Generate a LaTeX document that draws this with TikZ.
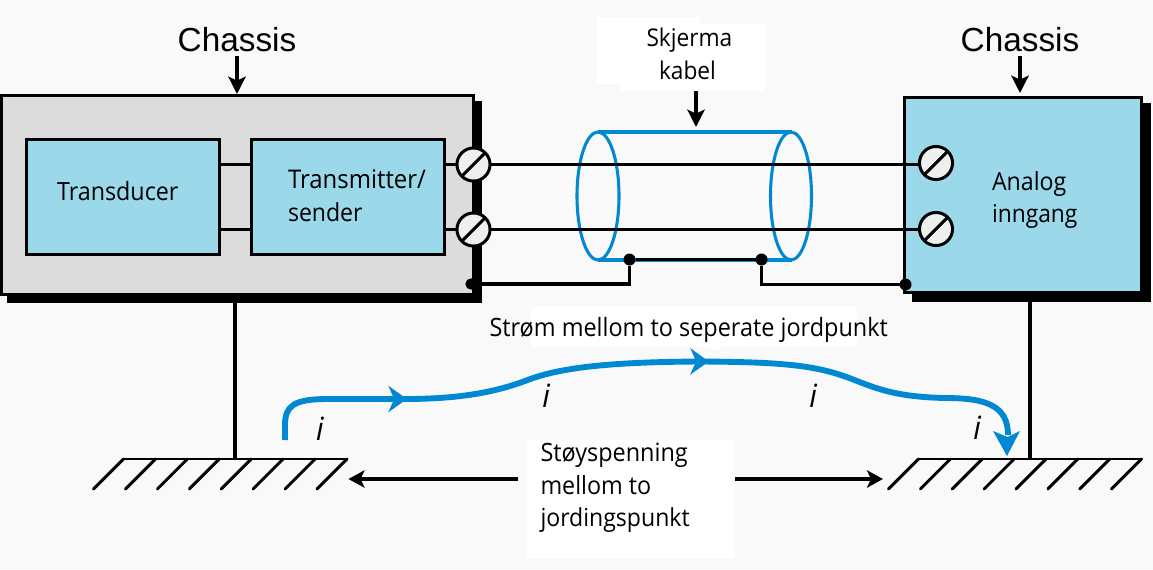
\documentclass[tikz,border=0pt]{standalone}
\usepackage{fontspec}
\usetikzlibrary{arrows.meta,decorations.markings,calc}
\newfontfamily\segf[FakeStretch=0.93]{Open Sans}
\newfontfamily\arialf{Liberation Sans}
\definecolor{bgc}{HTML}{F9F9F9}
\definecolor{boxg}{HTML}{DCDCDC}
\definecolor{boxb}{HTML}{9AD8EA}
\definecolor{wireb}{HTML}{0088D2}
\definecolor{termc}{HTML}{EFEFEF}
\tikzset{
  blk/.style={draw=black,line width=2.25pt,fill=#1,inner sep=0pt,outer sep=0pt,rectangle},
  shadowbox/.style={fill=black,inner sep=0pt,outer sep=0pt,rectangle},
  term/.style={draw=black,line width=2.25pt,fill=termc,circle,inner sep=0pt,outer sep=0pt,minimum size=24.8pt},
  jdot/.style={fill=black,circle,inner sep=0pt,outer sep=0pt,minimum size=#1},
  wire/.style={draw=black,line width=2.3pt},
  shieldl/.style={draw=wireb,line width=2.3pt},
  lbl/.style={anchor=base west,inner sep=0pt,outer sep=0pt,font=\segf\fontsize{#1}{#1}\selectfont,text=black},
  chas/.style={anchor=base,inner sep=0pt,outer sep=0pt,font=\arialf\fontsize{25}{25}\selectfont},
  ital/.style={anchor=center,inner sep=0pt,outer sep=0pt,font=\segf\itshape\fontsize{24}{24}\selectfont},
  arr/.style={draw=black,line width=2.6pt,-{Stealth[length=13pt,width=13pt,inset=3pt]}},
  arrb/.style={draw=black,line width=2.8pt,-{Stealth[length=12pt,width=13pt,inset=3pt]}},
  gnd/.style={draw=black,line width=2.2pt,line cap=round},
  patch/.style={fill=white,draw=none},
}
\begin{document}
\begin{tikzpicture}[x=0.75pt,y=-0.75pt]
\useasboundingbox (0,0) rectangle (1153,569);
\fill[bgc] (0,0) rectangle (1153,569);
% white patches behind labels
\fill[patch] (597,17) rectangle (700,84);
\fill[patch] (619,24) rectangle (766,91);
\fill[patch] (531,307) rectangle (857,347);
\fill[patch] (710,347) rectangle (720,349);
\fill[patch] (526,440) rectangle (735,559);
% boxes
\node[shadowbox,minimum width=356.25pt,minimum height=151.5pt] (lshadow) at (244.5,202) {};
\node[blk=boxg,minimum width=354pt,minimum height=149.25pt] (lbox) at (237.5,195) {};
\node[shadowbox,minimum width=179.25pt,minimum height=149.25pt] (rshadow) at (1031.5,202.5) {};
\node[blk=boxb,minimum width=177.4pt,minimum height=146.25pt] (rbox) at (1023.25,195) {};
\node[blk=boxb,minimum width=144.75pt,minimum height=86.25pt] (trans) at (123,196.75) {};
\node[blk=boxb,minimum width=144.75pt,minimum height=86.25pt] (tmit) at (348,196.75) {};
% screened cable
\coordinate (cltop) at (598,132);
\coordinate (clbot) at (598,260);
\coordinate (crtop) at (792,132);
\coordinate (crbot) at (792,260);
\draw[shieldl] (598,196) ellipse [x radius=21,y radius=64];
\draw[shieldl] (791,196) ellipse [x radius=20.5,y radius=64];
\draw[shieldl] (cltop) -- (crtop);
\draw[shieldl] (clbot) -- (crbot);
% terminals
\node[term] (lt1) at (473.5,164.5) {};
\node[term] (lt2) at (473.5,229.5) {};
\node[term] (rt1) at (936,163) {};
\node[term] (rt2) at (936,229) {};
% wires
\draw[wire] (trans.east |- lt1) -- (tmit.west |- lt1);
\draw[wire] (trans.east |- lt2) -- (tmit.west |- lt2);
\draw[wire] (tmit.east |- lt1) -- (lt1);
\draw[wire] (tmit.east |- lt2) -- (lt2);
\draw[wire] (lt1) -- (rt1.west |- lt1);
\draw[wire] (lt2) -- (rt2.west |- lt2);
\foreach \t in {lt1,lt2,rt1,rt2}{
  \draw[black,line width=2.25pt] (\t.225) -- (\t.45);
}
% joints
\node[jdot=8.5pt] (dl) at (471,284) {};
\node[jdot=9pt] (d1) at (629.5,259.5) {};
\node[jdot=9pt] (d2) at (761.5,259.5) {};
\node[jdot=9pt] (dr) at (905.5,284.5) {};
\draw[wire] (d1) -- (d2);
\draw[wire] (dl) -- (d1 |- dl) -- (d1);
\draw[wire] (d2) -- (d2 |- dr) -- (dr);
% ground
\coordinate (gl) at (123.5,459);
\coordinate (gle) at (347,459);
\coordinate (gr) at (918.5,459);
\coordinate (gre) at (1141.5,459);
\draw[gnd] (gl) -- (gle);
\draw[gnd] (gr) -- (gre);
\foreach \i in {0,...,7}{
  \draw[gnd] ($(gl)+(\i*31.93,0)$) -- ++(-30,30);
  \draw[gnd] ($(gr)+(\i*31.86,0)$) -- ++(-30,30);
}
\coordinate (lsb) at (235,303);
\coordinate (rsb) at (1030,302);
\draw[black,line width=2.5pt] (lsb) -- (lsb |- gl);
\draw[black,line width=2.5pt] (rsb) -- (rsb |- gr);
% current path
\coordinate (ib) at (285,440);
\coordinate (ie) at (1007,456);
\draw[wireb,line width=4.4pt,
  postaction={decorate},
  decoration={markings,
    mark=at position 0.192 with {\fill[wireb] (1.5pt,0) -- (-12.5pt,10pt) -- (-8pt,0) -- (-12.5pt,-10pt) -- cycle;},
    mark=at position 0.583 with {\fill[wireb] (1.5pt,0) -- (-12.5pt,10pt) -- (-8pt,0) -- (-12.5pt,-10pt) -- cycle;}}]
  (ib) -- (285,425) .. controls (285,405) and (295,399.5) .. (325,399) -- (405,399)
  .. controls (460,399) and (495,392) .. (525,381)
  .. controls (555,369) and (600,362) .. (700,361.5)
  .. controls (790,362) and (820,366) .. (857,381)
  .. controls (880,390) and (900,397) .. (945,398)
  .. controls (985,398) and (1008,405) .. (1008,435);
\fill[wireb] (ie) -- (993,431) -- (1007.5,437) -- (1020,431) -- cycle;
% arrows
\node[chas] (cl) at (237,51) {Chassis};
\node[chas] (cr) at (1020,51) {Chassis};
\coordinate (al) at (237,94);
\coordinate (ar) at (1020,93);
\coordinate (ak) at (696,127);
\draw[arr] (237,56) -- (al);
\draw[arr] (1020,56) -- (ar);
\draw[arr] (696,91) -- (ak);
\coordinate (nl) at (517.5,479);
\coordinate (nle) at (348.5,479);
\coordinate (nr) at (735,479);
\coordinate (nre) at (883,479);
\draw[arrb] (nl) -- (nle);
\draw[arrb] (nr) -- (nre);
% labels
\node[lbl=18.8] (tt) at (57,200) {Transducer};
\node[lbl=19.3] (t1) at (288,188) {Transmitter/};
\node[lbl=18.6] (t2) at (288,221.5) {sender};
\node[lbl=18.7] (a1) at (992,190) {Analog};
\node[lbl=18.4] (a2) at (992,222.5) {inngang};
\node[lbl=18.3] (s1) at (646.5,46.5) {Skjerma};
\node[lbl=18.3] (s2) at (659,79) {kabel};
\node[lbl=18.9] (st) at (489.5,336.5) {Strøm mellom to seperate jordpunkt};
\node[lbl=18.9] (n1) at (540.5,461) {Støyspenning};
\node[lbl=18.8] (n2) at (540.5,494) {mellom to};
\node[lbl=18.6] (n3) at (540.5,526.5) {jordingspunkt};
\node[ital] (i1) at (320,429) {i};
\node[ital] (i2) at (546,396) {i};
\node[ital] (i3) at (813,396) {i};
\node[ital] (i4) at (977,428) {i};
\end{tikzpicture}
\end{document}
